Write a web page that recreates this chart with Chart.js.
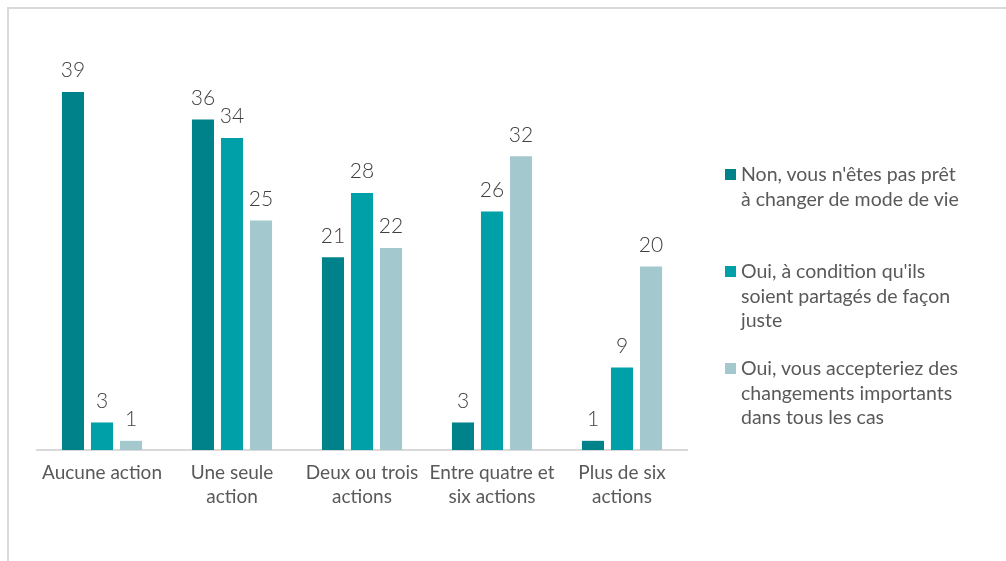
<!DOCTYPE html>
<html lang="fr">
<head>
<meta charset="utf-8">
<script src="https://cdn.jsdelivr.net/npm/chart.js@4.4.1/dist/chart.umd.min.js"></script>
<style>
  html, body { margin: 0; padding: 0; background: #fff; }
  body { width: 1006px; height: 561px; position: relative; overflow: hidden; font-family: Lato, "Open Sans", sans-serif; }
  #cadre { position: absolute; left: 7px; top: 7px; width: 1010px; height: 570px; border: 2px solid #d9d9d9; box-sizing: border-box; }
  #zone { position: absolute; left: 0; top: 0; width: 1006px; height: 561px; }
  #legende { position: absolute; left: 723px; top: 162px; width: 283px; color: #595959; font-size: 19.5px; line-height: 24.5px; }
  .item { position: relative; padding-left: 18px; height: 97px; }
  .item .carre { position: absolute; left: 2px; top: 7px; width: 11px; height: 11px; }
</style>
</head>
<body>
<div id="cadre"></div>
<div id="zone"><canvas id="graphique" width="1006" height="561"></canvas></div>
<div id="legende"></div>
<script>
const categories = [
  "Aucune action",
  ["Une seule", "action"],
  ["Deux ou trois", "actions"],
  ["Entre quatre et", "six actions"],
  ["Plus de six", "actions"]
];
const series = [
  "Non, vous n'êtes pas prêt à changer de mode de vie",
  "Oui, à condition qu'ils soient partagés de façon juste",
  "Oui, vous accepteriez des changements importants dans tous les cas"
];
const seriesLignes = [
  ["Non, vous n'êtes pas prêt", "à changer de mode de vie"],
  ["Oui, à condition qu'ils", "soient partagés de façon", "juste"],
  ["Oui, vous accepteriez des", "changements importants", "dans tous les cas"]
];
const valeursNon = [39, 36, 21, 3, 1];
const valeursOuiCondition = [3, 34, 28, 26, 9];
const valeursOuiTous = [1, 25, 22, 32, 20];
const couleurs = ["#00828a", "#00a0a8", "#a3c9ce"];

// Etiquettes de valeurs au-dessus des barres
const etiquettes = {
  id: "etiquettes",
  afterDatasetsDraw(chart) {
    const ctx = chart.ctx;
    ctx.save();
    ctx.font = "300 21px Lato, 'Open Sans', sans-serif";
    ctx.fillStyle = "#404040";
    ctx.textAlign = "center";
    ctx.textBaseline = "bottom";
    chart.data.datasets.forEach((ds, i) => {
      chart.getDatasetMeta(i).data.forEach((bar, j) => {
        ctx.fillText(ds.data[j], bar.x, bar.y - 11);
      });
    });
    ctx.restore();
  }
};

const valeurs = [valeursNon, valeursOuiCondition, valeursOuiTous];

new Chart(document.getElementById("graphique"), {
  type: "bar",
  data: {
    labels: categories,
    datasets: series.map((nom, i) => ({
      label: nom,
      data: valeurs[i],
      backgroundColor: couleurs[i],
      categoryPercentage: 0.67,
      barPercentage: 0.76
    }))
  },
  options: {
    responsive: false,
    animation: false,
    layout: { padding: { left: 37, right: 319, top: 37, bottom: 0 } },
    plugins: {
      legend: { display: false },
      tooltip: { enabled: false }
    },
    scales: {
      y: { display: false, min: 0, max: 45 },
      x: {
        grid: { display: false },
        border: { display: true, color: "#d9d9d9", width: 2 },
        ticks: {
          color: "#595959",
          font: { family: "Lato, 'Open Sans', sans-serif", size: 19, lineHeight: 1.26 },
          padding: 3,
          maxRotation: 0,
          autoSkip: false
        },
        afterFit(scale) { scale.height = 111; }
      }
    }
  },
  plugins: [etiquettes]
});

// Légende à droite
const legende = document.getElementById("legende");
seriesLignes.forEach((lignes, i) => {
  const item = document.createElement("div");
  item.className = "item";
  item.innerHTML = `<span class="carre" style="background:${couleurs[i]}"></span>${lignes.join("<br>")}`;
  legende.appendChild(item);
});
</script>
</body>
</html>
